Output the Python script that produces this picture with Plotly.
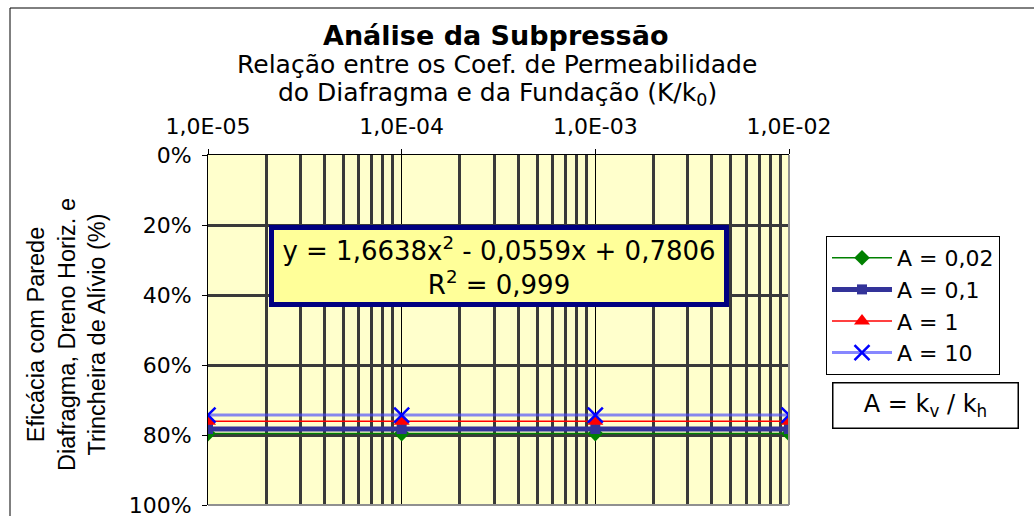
import plotly.graph_objects as go

# razão K/k0 (eixo x, log)
k_ratio = [1e-5, 1e-4, 1e-3, 1e-2]
x_labels = ["1,0E-05", "1,0E-04", "1,0E-03", "1,0E-02"]

# eficácia para cada A = kv/kh
ef_a002 = [0.796, 0.796, 0.796, 0.796]
ef_a01 = [0.783, 0.783, 0.783, 0.783]
ef_a1 = [0.761, 0.761, 0.761, 0.761]
ef_a10 = [0.743, 0.743, 0.743, 0.743]

y_ticks = [0, 0.2, 0.4, 0.6, 0.8, 1.0]

W, H = 1034, 516
L, R, T, B = 208, 789, 155, 505


def px_x(p):
    return (p - L) / (R - L)


def px_y(p):
    return (B - p) / (B - T)


minor_vals = [m * 10 ** e for e in (-5, -4, -3) for m in range(2, 10)]

fig = go.Figure()
fig.add_trace(go.Scatter(
    x=k_ratio, y=ef_a002, name="A = 0,02", mode='lines+markers',
    line=dict(color='#008000', width=1.5),
    marker=dict(symbol='diamond', size=12, color='#008000')
))
fig.add_trace(go.Scatter(
    x=k_ratio, y=ef_a01, name="A = 0,1", mode='lines+markers',
    line=dict(color='#333399', width=5),
    marker=dict(symbol='square', size=10, color='#333399')
))
fig.add_trace(go.Scatter(
    x=k_ratio, y=ef_a1, name="A = 1", mode='lines+markers',
    line=dict(color='#FF0000', width=1.5),
    marker=dict(symbol='triangle-up', size=14, color='#FF0000')
))
fig.add_trace(go.Scatter(
    x=k_ratio, y=ef_a10, name="A = 10", mode='lines+markers',
    line=dict(color='rgba(70,70,255,0.65)', width=3),
    marker=dict(symbol='x-thin', size=15, line=dict(color='#0000FF', width=2.5))
))

fig.update_layout(
    width=W, height=H,
    margin=dict(l=L, r=W - R, t=T, b=H - B, autoexpand=False),
    paper_bgcolor='white', plot_bgcolor='#FFFFCC',
    font=dict(family='DejaVu Sans', size=20, color='black'),
    xaxis=dict(
        type='log', range=[-5, -2], side='top',
        tickvals=k_ratio, ticktext=x_labels,
        ticks='outside', ticklen=5, tickcolor='black', ticklabelstandoff=6,
        showline=True, linecolor='black', linewidth=1,
        showgrid=True, gridcolor='black', gridwidth=1,
        minor=dict(tickvals=minor_vals, showgrid=True, gridcolor='#3a3a3a', gridwidth=2.5, ticks=''),
        tickfont=dict(size=22), zeroline=False, ticklabeloverflow='allow'
    ),
    yaxis=dict(
        range=[1.0, 0], tickvals=y_ticks, tickformat='.0%',
        ticks='outside', ticklen=5, tickcolor='black', ticklabelstandoff=6,
        showline=True, linecolor='black', linewidth=1,
        showgrid=True, gridcolor='#3a3a3a', gridwidth=2.5,
        tickfont=dict(size=22), zeroline=False, ticklabeloverflow='allow'
    ),
    legend=dict(
        x=px_x(826), y=px_y(236), xanchor='left', yanchor='top',
        bordercolor='black', borderwidth=1, bgcolor='white',
        font=dict(size=22), itemwidth=60, tracegroupgap=0
    ),
    showlegend=True
)

# borda da área de plotagem (direita/inferior cinza)
fig.add_shape(type='line', xref='paper', yref='paper', x0=1, x1=1, y0=0, y1=1,
              line=dict(color='#909090', width=2))
fig.add_shape(type='line', xref='paper', yref='paper', x0=0, x1=1, y0=0, y1=0,
              line=dict(color='#909090', width=2))
# borda do gráfico
fig.add_shape(type='line', xref='paper', yref='paper', x0=px_x(10), x1=px_x(10), y0=px_y(8), y1=px_y(H + 5),
              line=dict(color='black', width=1))
fig.add_shape(type='line', xref='paper', yref='paper', x0=px_x(10), x1=px_x(W + 5), y0=px_y(8), y1=px_y(8),
              line=dict(color='black', width=1))


def label(text, x, y, **kw):
    fig.add_annotation(text=text, xref='paper', yref='paper', x=px_x(x), y=px_y(y),
                       xanchor='center', yanchor='middle', showarrow=False, **kw)


# títulos
label("<b>Análise da Subpressão</b>", 495, 35, font=dict(size=27))
label("Relação entre os Coef. de Permeabilidade", 497, 64, font=dict(size=25))
label("do Diafragma e da Fundação (K/k<sub>0</sub>)", 497, 94, font=dict(size=25))

# título do eixo y
label("Eficácia com Parede<br>Diafragma, Dreno Horiz. e<br>Trincheira de Alívio (%)", 66, 335,
      textangle=-90, font=dict(family='Liberation Sans', size=23.5))

# equação da linha de tendência
label("y = 1,6638x<sup>2</sup> - 0,0559x + 0,7806<br>R<sup>2</sup> = 0,999", 499, 265.5,
      font=dict(size=26), bgcolor='#FFFF99', bordercolor='#000080', borderwidth=5,
      borderpad=3, width=444, height=66)

# caixa A = kv/kh
label("A = k<sub>v</sub> / k<sub>h</sub>", 925, 405, font=dict(size=24),
      bgcolor='white', bordercolor='black', borderwidth=1.5, borderpad=3,
      width=178, height=38)

fig.write_html("out.html", config=dict(displayModeBar=False),
               post_script="document.body.style.margin='0';")
